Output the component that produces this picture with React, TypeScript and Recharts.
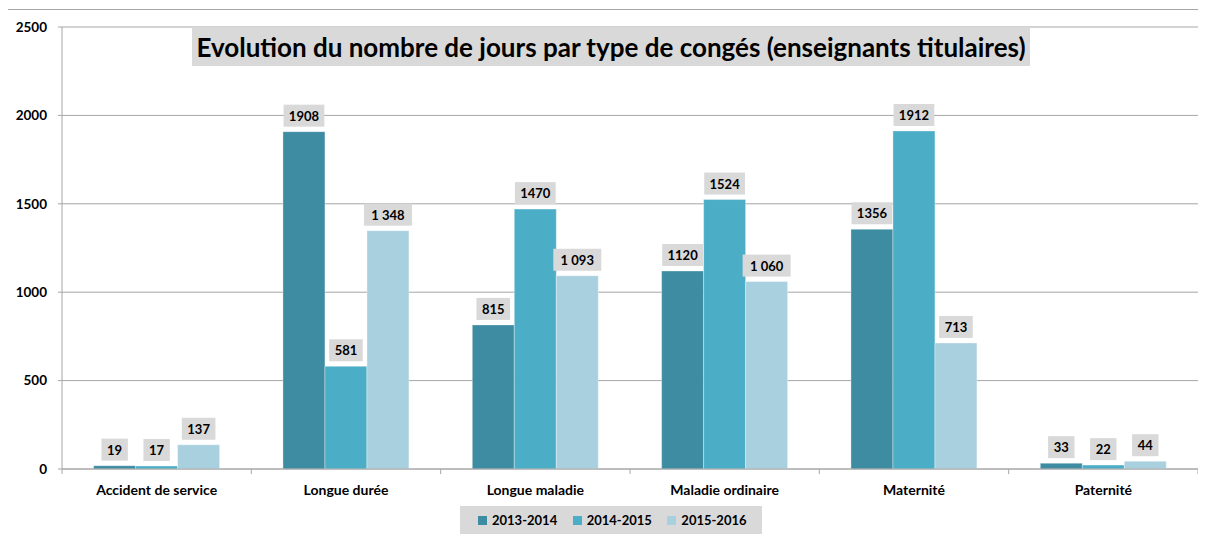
import React from 'react';
import { BarChart, Bar, XAxis, YAxis, CartesianGrid, LabelList, Legend } from 'recharts';

const categories = ['Accident de service', 'Longue durée', 'Longue maladie', 'Maladie ordinaire', 'Maternité', 'Paternité'];
const s2013 = [19, 1908, 815, 1120, 1356, 33];
const s2014 = [17, 581, 1470, 1524, 1912, 22];
const s2015 = [137, 1348, 1093, 1060, 713, 44];
const yTicks = [0, 500, 1000, 1500, 2000, 2500];
const seriesNames = ['2013-2014', '2014-2015', '2015-2016'];
const colors = ['#3D8CA2', '#4BADC6', '#A9D0DE'];

const data = categories.map((c, i) => ({ name: c, a: s2013[i], b: s2014[i], c: s2015[i] }));

const FONT = 'Lato, "Open Sans", sans-serif';
const CHART_W = 1189;
const CHART_H = 529;
const Y_W = 53;
const PLOT_W = CHART_W - Y_W;
const BAND = PLOT_W / categories.length;

const fmtPlain = (v: number) => String(v);
const fmtSpace = (v: number) => String(v).replace(/\B(?=(\d{3})+(?!\d))/g, ' ');

const makeLabel = (fmt: (v: number) => string) => (props: any) => {
  const { x, y, width, value } = props;
  const text = fmt(Number(value));
  const tw = text.length * 7.2 + 12;
  const cx = Number(x) + Number(width) / 2;
  const bottom = Number(y) - 5;
  return (
    <g>
      <rect x={cx - tw / 2} y={bottom - 22} width={tw} height={22} fill="#D9D9D9" />
      <text x={cx} y={bottom - 6} textAnchor="middle" fontFamily={FONT} fontWeight={700} fontSize={13} fill="#000">
        {text}
      </text>
    </g>
  );
};

const XTick = (props: any) => {
  const { x, y, payload, index } = props;
  const last = index === categories.length - 1;
  return (
    <g>
      <line x1={x - BAND / 2} x2={x - BAND / 2} y1={y} y2={y + 5} stroke="#A6A6A6" />
      {last && <line x1={x + BAND / 2} x2={x + BAND / 2} y1={y} y2={y + 5} stroke="#A6A6A6" />}
      <text x={x} y={y + 26} textAnchor="middle" fontFamily={FONT} fontWeight={700} fontSize={14} fill="#000">
        {payload.value}
      </text>
    </g>
  );
};

const LegendContent = () => (
  <div
    style={{
      background: '#D9D9D9',
      width: 302,
      height: 28,
      display: 'flex',
      alignItems: 'center',
      boxSizing: 'border-box',
      paddingLeft: 18,
      fontFamily: FONT,
      fontWeight: 700,
      fontSize: 13,
      color: '#000',
    }}
  >
    {seriesNames.map((n, i) => (
      <div key={n} style={{ display: 'flex', alignItems: 'center', width: 96 }}>
        <span style={{ display: 'inline-block', width: 9, height: 9, background: colors[i], marginRight: 5 }} />
        <span>{n}</span>
      </div>
    ))}
  </div>
);

export default function App() {
  return (
    <div style={{ position: 'relative', width: 1206, height: 539 }}>
      <div
        style={{
          position: 'absolute',
          left: -1,
          top: 1,
          width: 1300,
          height: 600,
          borderLeft: '1px solid #A6A6A6',
          borderTop: '1px solid #A6A6A6',
        }}
      />
      <div style={{ position: 'absolute', left: 1, top: 2 }}>
        <BarChart
          width={CHART_W}
          height={CHART_H}
          data={data}
          margin={{ top: 17, right: 0, bottom: 12, left: 0 }}
          barCategoryGap="16.7%"
          barGap={0}
        >
          <CartesianGrid vertical={false} stroke="#A6A6A6" />
          <XAxis
            dataKey="name"
            interval={0}
            height={30}
            tickSize={0}
            tickMargin={0}
            tickLine={false}
            axisLine={{ stroke: '#A6A6A6' }}
            tick={<XTick />}
          />
          <YAxis
            width={Y_W}
            domain={[0, 2500]}
            ticks={yTicks}
            interval={0}
            tickSize={4}
            tickMargin={11}
            axisLine={{ stroke: '#A6A6A6' }}
            tickLine={{ stroke: '#A6A6A6' }}
            tick={{ fontFamily: FONT, fontWeight: 700, fontSize: 13.5, fill: '#000' }}
          />
          <Legend
            content={<LegendContent />}
            wrapperStyle={{ position: 'absolute', left: 451, top: 496, width: 302, bottom: 'auto' }}
          />
          <Bar dataKey="a" name={seriesNames[0]} fill={colors[0]} stroke="#FFFFFF" strokeOpacity={0.35} isAnimationActive={false}>
            <LabelList dataKey="a" content={makeLabel(fmtPlain)} />
          </Bar>
          <Bar dataKey="b" name={seriesNames[1]} fill={colors[1]} stroke="#FFFFFF" strokeOpacity={0.35} isAnimationActive={false}>
            <LabelList dataKey="b" content={makeLabel(fmtPlain)} />
          </Bar>
          <Bar dataKey="c" name={seriesNames[2]} fill={colors[2]} stroke="#FFFFFF" strokeOpacity={0.35} isAnimationActive={false}>
            <LabelList dataKey="c" content={makeLabel(fmtSpace)} />
          </Bar>
        </BarChart>
      </div>
      <div
        style={{
          position: 'absolute',
          left: 184,
          top: 19,
          width: 838,
          height: 39,
          background: '#D9D9D9',
          display: 'flex',
          alignItems: 'center',
          justifyContent: 'center',
          fontFamily: FONT,
          fontWeight: 700,
          fontSize: 26,
          color: '#000',
          whiteSpace: 'nowrap',
        }}
      >
        Evolution du nombre de jours par type de congés (enseignants titulaires)
      </div>
    </div>
  );
}
